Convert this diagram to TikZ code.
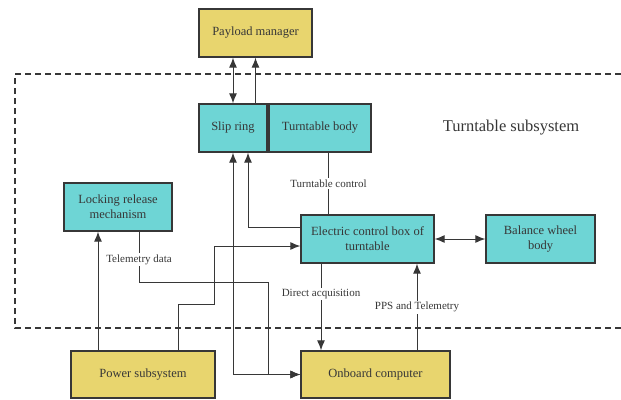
\documentclass[tikz,border=0pt]{standalone}
\usepackage{fontspec}
\setmainfont{Liberation Serif}
\usetikzlibrary{arrows.meta,positioning,calc}
\definecolor{boxyellow}{RGB}{232,213,110}
\definecolor{boxcyan}{RGB}{110,213,213}
\definecolor{edgegray}{RGB}{55,55,55}
\tikzset{
  >={Latex[length=10pt,width=8pt]},
  block/.style={draw=edgegray, line width=1.3pt, text=edgegray, align=center,
    inner sep=2pt, font=\fontsize{12.5}{15}\selectfont},
  yellow block/.style={block, fill=boxyellow},
  cyan block/.style={block, fill=boxcyan},
  link/.style={draw=edgegray, line width=1pt},
  tag/.style={fill=white, inner sep=1.5pt, text=edgegray,
    font=\fontsize{11}{12}\selectfont}
}
\begin{document}
\begin{tikzpicture}[x=1pt, y=-1pt]
\useasboundingbox (0,0) rectangle (621,399);
% subsystem frame
\draw[edgegray, line width=1.1pt, dash pattern=on 6pt off 4pt]
  (621,74) -- (15,74) -- (15,328) -- (621,328);
\node[text=edgegray, font=\fontsize{16.5}{18}\selectfont] (title) at (511,128) {Turntable subsystem};

% blocks
\node[yellow block, minimum width=113pt, minimum height=48pt] (payload) at (255.5,33) {Payload manager};
\node[cyan block, minimum width=68pt, minimum height=48pt] (slip) at (233,128) {Slip ring};
\node[cyan block, minimum width=102pt, minimum height=48pt] (body) at (320,128) {Turntable body};
\node[cyan block, minimum width=108pt, minimum height=48pt] (lock) at (118,207) {Locking release\\mechanism};
\node[cyan block, minimum width=133pt, minimum height=48pt] (ctrl) at (367.5,239) {Electric control box of\\turntable};
\node[cyan block, minimum width=109pt, minimum height=48pt] (wheel) at (540.5,239) {Balance wheel\\body};
\node[yellow block, minimum width=144pt, minimum height=47pt] (power) at (143,374.5) {Power subsystem};
\node[yellow block, minimum width=149pt, minimum height=47pt] (obc) at (375.5,374.5) {Onboard computer};

% slip ring and payload
\draw[link,<->] (slip.north) -- (slip.north |- payload.south);
\draw[link,->] (slip.north -| payload.south) -- (payload.south);

% leads into the slip ring
\draw[link,<->] (slip.south) |- (obc.west);
\draw[link,->] ([yshift=12pt]ctrl.west) -| ([xshift=15pt]slip.south);

% turntable control
\draw[link] ([xshift=8.5pt]body.south) -- node[tag] {Turntable control} ([xshift=8.5pt]body.south |- ctrl.north);
\draw[link,<->] (ctrl.east) -- (wheel.west);

% telemetry of the locking mechanism
\draw[link,->] ([xshift=21pt]lock.south) -- node[tag, pos=0.55] {Telemetry data} ++(0,51)
  -| ([xshift=-32pt]obc.west) -- (obc.west);

% power lines
\draw[link,->] ([xshift=-45pt]power.north) -- ([xshift=-45pt]power.north |- lock.south);
\draw[link,->] ([xshift=35pt]power.north) -- ++(0,-46) -- ++(36,0) |- ([yshift=-7pt]ctrl.west);

% onboard computer and control box
\draw[link,->] ([xshift=-46.5pt]ctrl.south) -- node[tag, pos=0.35] {Direct acquisition} ([xshift=-46.5pt]ctrl.south |- obc.north);
\draw[link,->] ([xshift=49.5pt]ctrl.south |- obc.north) -- node[tag] {PPS and Telemetry} ([xshift=49.5pt]ctrl.south);
\end{tikzpicture}
\end{document}
